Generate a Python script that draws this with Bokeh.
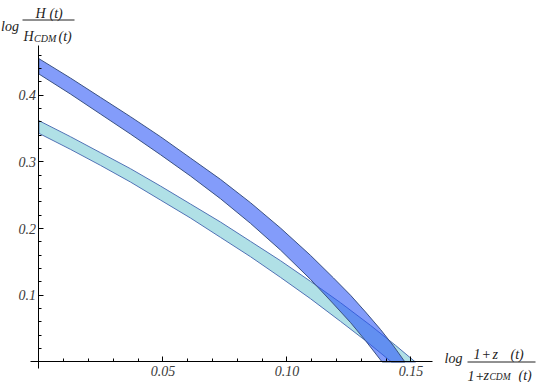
from bokeh.plotting import figure
from bokeh.models import Range1d, LinearAxis, FixedTicker, Label, Arrow
from bokeh.embed import file_html
from bokeh.resources import INLINE

# ---- data ----
# dark (royal blue) band: upper and lower boundary curves
xd_upper = [0.0, 0.0127, 0.0248, 0.0369, 0.0490, 0.0611, 0.0732, 0.0853, 0.0974,
            0.1095, 0.1188, 0.1257, 0.1317, 0.1377, 0.1430, 0.1476]
yd_upper = [0.455, 0.426, 0.397, 0.368, 0.338, 0.306, 0.274, 0.239, 0.201,
            0.160, 0.126, 0.100, 0.075, 0.049, 0.024, 0.0]
xd_lower = [0.0, 0.0127, 0.0248, 0.0369, 0.0490, 0.0611, 0.0732, 0.0853, 0.0974,
            0.1095, 0.1188, 0.1257, 0.1317, 0.1384]
yd_lower = [0.432, 0.402, 0.372, 0.342, 0.311, 0.279, 0.245, 0.208, 0.168,
            0.124, 0.087, 0.059, 0.032, 0.0]
# light (powder blue) band: upper and lower boundary curves
xc_upper = [0.0, 0.0127, 0.0248, 0.0369, 0.0490, 0.0611, 0.0732, 0.0853, 0.0974,
            0.1095, 0.1216, 0.1337, 0.1438, 0.1518]
yc_upper = [0.362, 0.338, 0.314, 0.290, 0.264, 0.237, 0.210, 0.181, 0.152,
            0.121, 0.089, 0.055, 0.025, 0.0]
xc_lower = [0.0, 0.0127, 0.0248, 0.0369, 0.0490, 0.0611, 0.0732, 0.0853, 0.0974,
            0.1095, 0.1216, 0.1317, 0.1422]
yc_lower = [0.343, 0.319, 0.295, 0.270, 0.243, 0.216, 0.187, 0.158, 0.127,
            0.095, 0.061, 0.032, 0.0]

x_ticks = [0.05, 0.10, 0.15]
x_tick_labels = ["0.05", "0.10", "0.15"]
x_minor = [0.01, 0.02, 0.03, 0.04, 0.06, 0.07, 0.08, 0.09, 0.11, 0.12, 0.13, 0.14]
y_ticks = [0.1, 0.2, 0.3, 0.4]
y_tick_labels = ["0.1", "0.2", "0.3", "0.4"]
y_minor = [0.02, 0.04, 0.06, 0.08, 0.12, 0.14, 0.16, 0.18, 0.22, 0.24, 0.26, 0.28,
           0.32, 0.34, 0.36, 0.38, 0.42, 0.44, 0.46]

# ---- layout ----
W, H = 539, 382
X0, X1 = -0.015484, 0.201855      # whole canvas width in data units
Y0, Y1 = -0.030749, 0.542223      # whole canvas height in data units
XB = (-0.00339, 0.15871)          # extent of the drawn x axis
YB = (-0.00975, 0.47475)          # extent of the drawn y axis


def dx(px):  # canvas px -> data x (annotation placement only)
    return X0 + px / W * (X1 - X0)


def dy(py):  # canvas px -> data y (annotation placement only)
    return Y0 + (H - py) / H * (Y1 - Y0)


p = figure(width=W, height=H, x_range=Range1d(X0, X1), y_range=Range1d(Y0, Y1),
           x_axis_type=None, y_axis_type=None, output_backend="svg",
           toolbar_location=None, min_border=0)
p.outline_line_color = None
p.background_fill_color = "white"
p.border_fill_color = "white"
p.styles = {"position": "absolute", "left": "0px", "top": "0px"}

# bands
p.patch(xc_upper + xc_lower[::-1], yc_upper + yc_lower[::-1],
        fill_color="#b0e0e6", fill_alpha=1.0,
        line_color="#5172b5", line_width=1.0, line_join="round")
p.patch(xd_upper + xd_lower[::-1], yd_upper + yd_lower[::-1],
        fill_color="#2a55f7", fill_alpha=0.58,
        line_color="#3b5283", line_width=1.0, line_join="round")

FONT = "Liberation Serif"


def style_axis(ax):
    ax.axis_line_color = "black"
    ax.axis_line_width = 1
    ax.major_tick_line_color = "black"
    ax.minor_tick_line_color = "black"
    ax.major_tick_in = 5
    ax.major_tick_out = 0
    ax.minor_tick_in = 3
    ax.minor_tick_out = 0
    ax.major_label_text_font = FONT
    ax.major_label_text_font_style = "italic"
    ax.major_label_text_font_size = "14px"
    ax.major_label_text_color = "#3a3a3a"


xaxis = LinearAxis(fixed_location=0, bounds=XB,
                   ticker=FixedTicker(ticks=x_ticks, minor_ticks=x_minor),
                   major_label_overrides=dict(zip(x_ticks, x_tick_labels)))
style_axis(xaxis)
xaxis.major_label_standoff = 4
p.add_layout(xaxis, "below")

yaxis = LinearAxis(fixed_location=0, bounds=YB,
                   ticker=FixedTicker(ticks=y_ticks, minor_ticks=y_minor),
                   major_label_overrides=dict(zip(y_ticks, y_tick_labels)))
style_axis(yaxis)
yaxis.major_label_standoff = 3
p.add_layout(yaxis, "left")


def lab(text, px, py, size="14px", align="left"):
    p.add_layout(Label(x=dx(px), y=dy(py), text=text, text_font=FONT,
                       text_font_style="italic", text_font_size=size,
                       text_color="#222222", text_align=align,
                       text_baseline="alphabetic"))


def bar(px0, px1, py):
    p.add_layout(Arrow(x_start=dx(px0), y_start=dy(py), x_end=dx(px1), y_end=dy(py),
                       start=None, end=None, line_color="#222222", line_width=1))


# y title:  log H(t) / H_CDM(t)
lab("log", 0.5, 26)
lab("H", 35, 13)
lab("(t)", 49, 13)
bar(22, 74, 19.5)
lab("H", 23, 35.5)
lab("CDM", 33.5, 38, "10px")
lab("(t)", 58, 35.5)

# x title:  log (1 + z(t)) / (1 + z_CDM(t))
lab("log", 444, 358)
lab("1", 473, 353.5)
lab("+", 481, 353.5)
lab("z", 492, 353.5)
lab("(t)", 510, 353.5)
bar(467, 535, 361.5)
lab("1", 467, 375)
lab("+", 474.5, 375)
lab("z", 483, 375)
lab("CDM", 489, 376.5, "9.5px")
lab("(t)", 518, 375)

open("out.html", "w").write(file_html(p, INLINE))
